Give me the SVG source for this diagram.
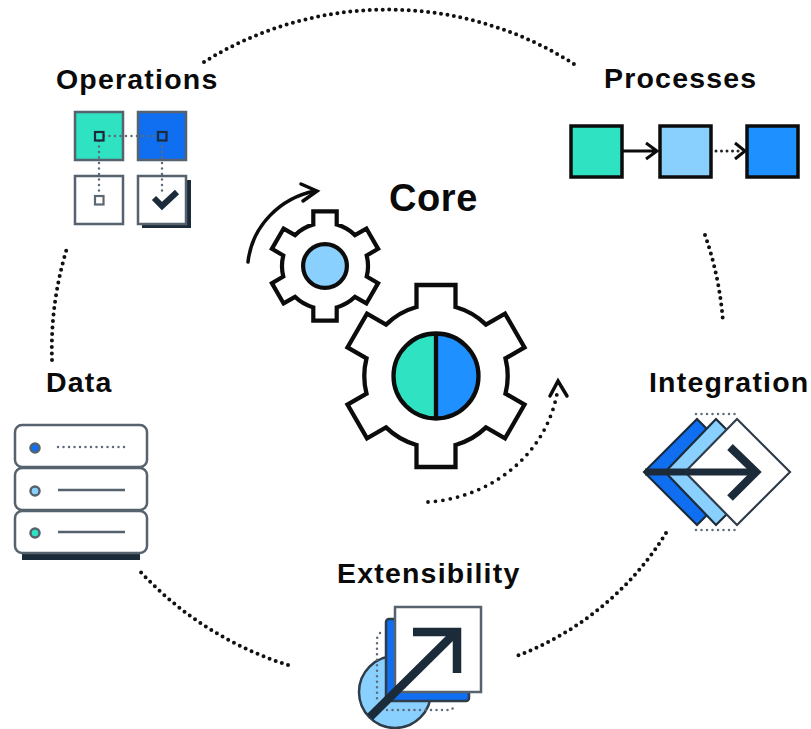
<svg xmlns="http://www.w3.org/2000/svg" width="811" height="729" viewBox="0 0 811 729">
<style>
text{font-family:"Liberation Sans",Arial,sans-serif;font-weight:700;fill:#0a0a0a;font-size:28.5px;letter-spacing:1.2px}
.ring{fill:none;stroke:#111;stroke-width:4;stroke-linecap:round;stroke-dasharray:0 6.5}
.ol{stroke:#56626d;stroke-width:2.5}
.bk{stroke:#0c0c0c;stroke-width:3.5}
.dot{fill:none;stroke:#5f6b76;stroke-width:2.5;stroke-linecap:round;stroke-dasharray:0 5.5}
.dk{fill:none;stroke:#1c2b3a;stroke-linejoin:miter}
.gear{fill:#fff;stroke:#0c0c0c;stroke-linejoin:miter}
</style>
<defs>
<path id="g" d="M-19.5,-69V-91H19.5V-69A71.7,71.7 0 0 1 50,-51.4L69,-62.4L88.5,-28.6L69.5,-17.6A71.7,71.7 0 0 1 69.5,17.6L88.5,28.6L69,62.4L50,51.4A71.7,71.7 0 0 1 19.5,69V91H-19.5V69A71.7,71.7 0 0 1 -50,51.4L-69,62.4L-88.5,28.6L-69.5,17.6A71.7,71.7 0 0 1 -69.5,-17.6L-88.5,-28.6L-69,-62.4L-50,-51.4A71.7,71.7 0 0 1 -19.5,-69Z"/>
</defs>
<g id="connectors">
<path class="ring" d="M204,62A347,347 0 0 1 577,66"/>
<path class="ring" d="M705,235A340,340 0 0 1 723,322"/>
<path class="ring" d="M666,533A300,300 0 0 1 514,657"/>
<path class="ring" d="M288,665A340,340 0 0 1 137,568"/>
<path class="ring" d="M52,360A340,340 0 0 1 68,245"/>
<path d="M248,262C252,226 280,198 315,191" fill="none" stroke="#0c0c0c" stroke-width="3.500" stroke-linecap="round"/>
<path d="M301,184L317,191L303,201" fill="none" stroke="#0c0c0c" stroke-width="3.500" stroke-linecap="round"/>
<path d="M428,502C490,498 548,455 558,388" fill="none" stroke="#111" stroke-width="3.800" stroke-linecap="round" stroke-dasharray="0 7.500"/>
<path d="M550,396L558,381L567,396" fill="none" stroke="#0c0c0c" stroke-width="3.500" stroke-linecap="round"/>
</g>
<g id="core">
<text x="389" y="211" style="font-size:38px;letter-spacing:.6px">Core</text>
<g id="gear-small" transform="translate(325,266) scale(.6)"><use href="#g" class="gear" stroke-width="7"/><circle r="36.5" fill="#8ad0ff" stroke="#0c0c0c" stroke-width="7"/></g>
<g id="gear-big" transform="translate(436,376)"><use href="#g" class="gear" stroke-width="4.300"/>
<path d="M0,-42.5A42.5,42.5 0 0 0 0,42.5Z" fill="#2ee2c2"/><path d="M0,-42.5A42.5,42.5 0 0 1 0,42.5Z" fill="#1e90ff"/>
<circle r="42.5" fill="none" stroke="#0c0c0c" stroke-width="4.300"/><path d="M0,-42.5V42.5" stroke="#0c0c0c" stroke-width="4.300"/></g>
</g>
<g id="operations">
<text x="56" y="89">Operations</text>
<rect x="75" y="112" width="48" height="48" fill="#2ee2c2" class="ol"/>
<rect x="138" y="112" width="48" height="48" fill="#0f6ff0" class="ol"/>
<rect x="75" y="176" width="48" height="48" fill="#fff" class="ol"/>
<rect x="142" y="180" width="49" height="48" fill="#1c2b3a"/>
<rect x="138" y="176" width="48" height="48" fill="#fff" class="ol"/>
<path class="dot" d="M104,136H157M99,141V195M162,141V196"/>
<rect x="95" y="132" width="8.500" height="8.500" fill="#2ee2c2" stroke="#1c2b3a" stroke-width="2.200"/>
<rect x="158" y="132" width="8.500" height="8.500" fill="#0f6ff0" stroke="#1c2b3a" stroke-width="2.200"/>
<rect x="95" y="196" width="8.500" height="8.500" fill="#fff" stroke="#5d6873" stroke-width="2.200"/>
<path d="M154,198L162,206L177,192" class="dk" stroke-width="6"/>
</g>
<g id="processes">
<text x="604" y="88">Processes</text>
<rect x="571" y="126" width="51" height="51" fill="#2ee2c2" class="bk"/>
<rect x="660" y="126" width="51" height="51" fill="#8ad0ff" class="bk"/>
<rect x="747" y="126" width="51" height="51" fill="#1e90ff" class="bk"/>
<path d="M622,151H657M646,143L657,151L646,159" fill="none" stroke="#0c0c0c" stroke-width="3"/>
<path d="M716,151H742" fill="none" stroke="#222" stroke-width="3" stroke-linecap="round" stroke-dasharray="0 5.500"/>
<path d="M735,143L745,151L735,159" fill="none" stroke="#0c0c0c" stroke-width="3"/>
</g>
<g id="integration">
<text x="649" y="392">Integration</text>
<path class="dot" d="M696,414H738M696,530H738"/>
<polygon points="644,472 697,419 750,472 697,525" fill="#0f6ff0" stroke="#1c2b3a" stroke-width="2.200"/>
<polygon points="665,472 716,419 769,472 716,525" fill="#8ad0ff" stroke="#1c2b3a" stroke-width="2.200"/>
<polygon points="685,472 737,419 790,472 737,525" fill="#fff" stroke="#2f3d4a" stroke-width="2.200"/>
<path d="M645,472H756" class="dk" stroke-width="7"/>
<path d="M730,447L756,472L730,498" class="dk" stroke-width="8"/>
</g>
<g id="extensibility">
<text x="337" y="583">Extensibility</text>
<circle cx="395" cy="692" r="36" fill="#8ad0ff" stroke="#2f3d4a" stroke-width="2.500"/>
<rect x="386" y="619" width="83" height="82" rx="3" fill="#0f6ff0" stroke="#2f3d4a" stroke-width="2.500"/>
<rect x="395" y="607" width="86" height="85" fill="#fff" stroke="#56626d" stroke-width="2.500"/>
<path class="dot" d="M380,633L377,638V702M387,710H450L455,707"/>
<path d="M370,717L456,632" class="dk" stroke-width="8.500"/>
<path d="M413,632H457V673" class="dk" stroke-width="8.500"/>
</g>
<g id="data">
<text x="46" y="392">Data</text>
<rect x="22" y="552" width="118" height="8" fill="#1c2b3a"/>
<rect x="15" y="425" width="132" height="42" rx="7" fill="#fff" class="ol"/>
<rect x="15" y="468" width="132" height="42" rx="7" fill="#fff" class="ol"/>
<rect x="15" y="511" width="132" height="42" rx="7" fill="#fff" class="ol"/>
<circle cx="35" cy="448" r="4.500" fill="#0f6ff0" class="ol"/>
<circle cx="35" cy="491" r="4.500" fill="#8ad0ff" class="ol"/>
<circle cx="35" cy="533" r="4.500" fill="#2ee2c2" class="ol"/>
<path class="dot" d="M58,447H126"/>
<path d="M58,490H125M58,532H125" stroke="#56626d" stroke-width="2.500" fill="none"/>
</g>
</svg>
